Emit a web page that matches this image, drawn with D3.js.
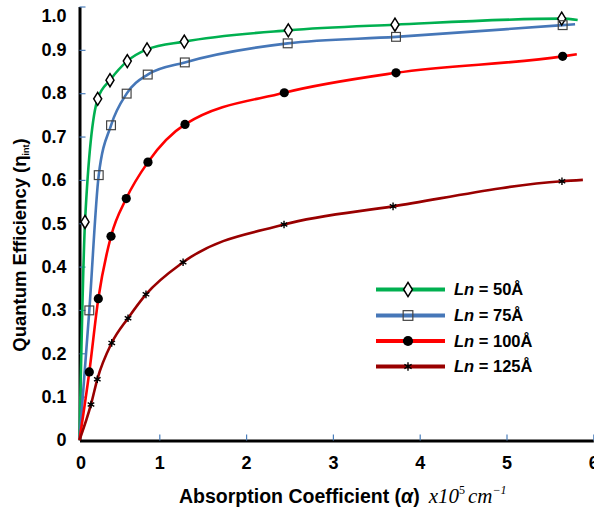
<!DOCTYPE html>
<html>
<head>
<meta charset="utf-8">
<script src="https://cdn.jsdelivr.net/npm/d3@7"></script>
<style>
  body { margin: 0; background: #fff; }
  text { font-family: "Liberation Sans", Arial, sans-serif; }
</style>
</head>
<body>
<script>
// marker positions (alpha in 1e5 cm^-1, eta = internal QE)
const alpha50  = [0.069, 0.228, 0.382, 0.599, 0.846, 1.288, 2.486, 3.715, 5.636];
const eta50    = [0.503, 0.787, 0.830, 0.874, 0.901, 0.919, 0.945, 0.958, 0.972];
const alpha75  = [0.123, 0.241, 0.395, 0.591, 0.855, 1.294, 2.479, 3.727, 5.647];
const eta75    = [0.299, 0.611, 0.726, 0.799, 0.843, 0.871, 0.915, 0.930, 0.957];
const alpha100 = [0.123, 0.236, 0.395, 0.586, 0.858, 1.296, 2.440, 3.727, 5.647];
const eta100   = [0.157, 0.326, 0.470, 0.557, 0.641, 0.728, 0.801, 0.847, 0.885];
const alpha125 = [0.144, 0.223, 0.404, 0.608, 0.833, 1.274, 2.437, 3.693, 5.639];
const eta125   = [0.082, 0.140, 0.224, 0.281, 0.336, 0.410, 0.497, 0.539, 0.597];

// where each fitted curve stops on the right
const endAlpha = [5.82, 5.79, 5.81, 5.88];
const endEta   = [0.969, 0.959, 0.890, 0.600];

const lnLabels = ["50", "75", "100", "125"];
const xTicks = [0, 1, 2, 3, 4, 5, 6];
const yTicks = [0, 0.1, 0.2, 0.3, 0.4, 0.5, 0.6, 0.7, 0.8, 0.9, 1.0];

const colors  = ["#00b050", "#4677b8", "#ff0000", "#990000"];
const symbols = ["diamond", "square", "dot", "star"];

const W = 594, H = 512;
const svg = d3.select("body").append("svg")
    .attr("width", W).attr("height", H);

// the printed axis is a bit squeezed between 0 and 1
const x = d3.scaleLinear().domain([0, 1, 6]).range([79.5, 159.3, 593.3]);
const y = d3.scaleLinear().domain([0, 1]).range([440, 6.5]);

const allAlpha = [alpha50, alpha75, alpha100, alpha125];
const allEta = [eta50, eta75, eta100, eta125];

const series = lnLabels.map(function (ln, i) {
  const pts = allAlpha[i].map((a, j) => [a, allEta[i][j]]);
  return {
    ln: ln, color: colors[i], sym: symbols[i], pts: pts,
    curve: [[0, 0]].concat(pts, [[endAlpha[i], endEta[i]]])
  };
});

// axes
const yAxis = d3.axisLeft(y).tickValues(yTicks).tickSize(-6).tickSizeOuter(0).tickPadding(13)
    .tickFormat(d => d === 0 ? "0" : d3.format(".1f")(d));
const xAxis = d3.axisBottom(x).tickValues(xTicks).tickSize(-6).tickSizeOuter(0).tickPadding(16)
    .tickFormat(d3.format("d"));

const gy = svg.append("g").attr("transform", "translate(" + x(0) + ",0)").call(yAxis);
const gx = svg.append("g").attr("transform", "translate(0," + (y(0) + 0.5) + ")").call(xAxis);

[gx, gy].forEach(function (g) {
  g.select(".domain").attr("stroke", "#000").attr("stroke-width", 3);
  g.selectAll(".tick line").attr("stroke", "#4a7ebb").attr("stroke-width", 1.2);
  g.selectAll(".tick text").attr("fill", "#000")
    .style("font-family", "Liberation Sans, Arial, sans-serif")
    .style("font-weight", "bold").style("font-size", "18px");
});
gy.selectAll(".tick line").filter(d => d === 0).remove();
gx.selectAll(".tick line").filter(d => d === 0).remove();
// the 0 label sits just under the corner, the top label is pushed down to stay in view
gx.selectAll(".tick").filter(d => d === 0).select("text").attr("dx", 1);
gy.selectAll(".tick").filter(d => d === 1).select("text").attr("dy", "0.85em");

// curves
const line = d3.line().x(d => x(d[0])).y(d => y(d[1])).curve(d3.curveMonotoneX);

svg.append("g").selectAll("path")
  .data(series).enter().append("path")
  .attr("d", d => line(d.curve))
  .attr("fill", "none")
  .attr("stroke", d => d.color)
  .attr("stroke-width", 2.6);

// markers
function drawMarker(g, sym, big) {
  const k = big ? 1.1 : 1;
  if (sym === "diamond") {
    g.append("path").attr("d", "M0," + (-6.5 * k) + "L" + (4 * k) + ",0L0," + (6.5 * k) + "L" + (-4 * k) + ",0Z")
      .attr("fill", "#fff").attr("stroke", "#000").attr("stroke-width", 1.5);
  } else if (sym === "square") {
    const s = 4.4 * k;
    g.append("rect").attr("x", -s).attr("y", -s).attr("width", 2 * s).attr("height", 2 * s)
      .attr("fill", "none").attr("stroke", "#444").attr("stroke-width", 1.2);
  } else if (sym === "dot") {
    g.append("circle").attr("r", 4.6 * k).attr("fill", "#000");
  } else {
    const r = 3.8 * k;
    const c = r * Math.cos(Math.PI / 6), s = r * Math.sin(Math.PI / 6);
    g.append("path")
      .attr("d", "M0," + (-r) + "V" + r +
                 "M" + (-c) + "," + (-s) + "L" + c + "," + s +
                 "M" + (-c) + "," + s + "L" + c + "," + (-s))
      .attr("stroke", "#000").attr("stroke-width", 1.4).attr("fill", "none");
  }
}

series.forEach(function (s) {
  svg.append("g").selectAll("g")
    .data(s.pts).enter().append("g")
    .attr("transform", d => "translate(" + x(d[0]) + "," + y(d[1]) + ")")
    .each(function () { drawMarker(d3.select(this), s.sym, false); });
});

// legend
const legendY = [289.5, 315.5, 341, 366.5];
const leg = svg.append("g");
series.forEach(function (s, i) {
  const g = leg.append("g").attr("transform", "translate(0," + legendY[i] + ")");
  g.append("line").attr("x1", 376).attr("x2", 445).attr("y1", 0).attr("y2", 0)
    .attr("stroke", s.color).attr("stroke-width", 3.8);
  const m = g.append("g").attr("transform", "translate(408,0)");
  drawMarker(m, s.sym, true);
  const t = g.append("text").attr("x", 454).attr("y", 5.5)
    .style("font-size", "16.5px").style("font-weight", "bold");
  t.append("tspan").style("font-style", "italic").text("Ln");
  t.append("tspan").text(" = " + s.ln + "Å");
});

// axis titles
const yt = svg.append("text")
  .attr("transform", "translate(26,245) rotate(-90)")
  .attr("text-anchor", "middle")
  .style("font-size", "18.5px").style("font-weight", "bold");
yt.append("tspan").text("Quantum Efficiency (η");
yt.append("tspan").attr("dy", 3).style("font-size", "9px").text("int");
yt.append("tspan").attr("dy", -3).text(")");

const xt = svg.append("text").attr("x", 179).attr("y", 503)
  .style("font-size", "19.5px").style("font-weight", "bold");
xt.append("tspan").text("Absorption Coefficient (");
xt.append("tspan").style("font-style", "italic").text("α");
xt.append("tspan").text(")");
const serif = "Liberation Serif, Times New Roman, serif";
xt.append("tspan").attr("dx", 9).style("font-family", serif).style("font-weight", "normal")
  .style("font-style", "italic").style("font-size", "21px").text("x10");
xt.append("tspan").attr("dy", -9).style("font-family", serif).style("font-weight", "normal")
  .style("font-size", "12px").text("5");
xt.append("tspan").attr("dy", 9).attr("dx", 3).style("font-family", serif).style("font-weight", "normal")
  .style("font-style", "italic").style("font-size", "21px").text("cm");
xt.append("tspan").attr("dy", -9).style("font-family", serif).style("font-weight", "normal")
  .style("font-style", "italic").style("font-size", "12px").text("−1");
</script>
</body>
</html>
